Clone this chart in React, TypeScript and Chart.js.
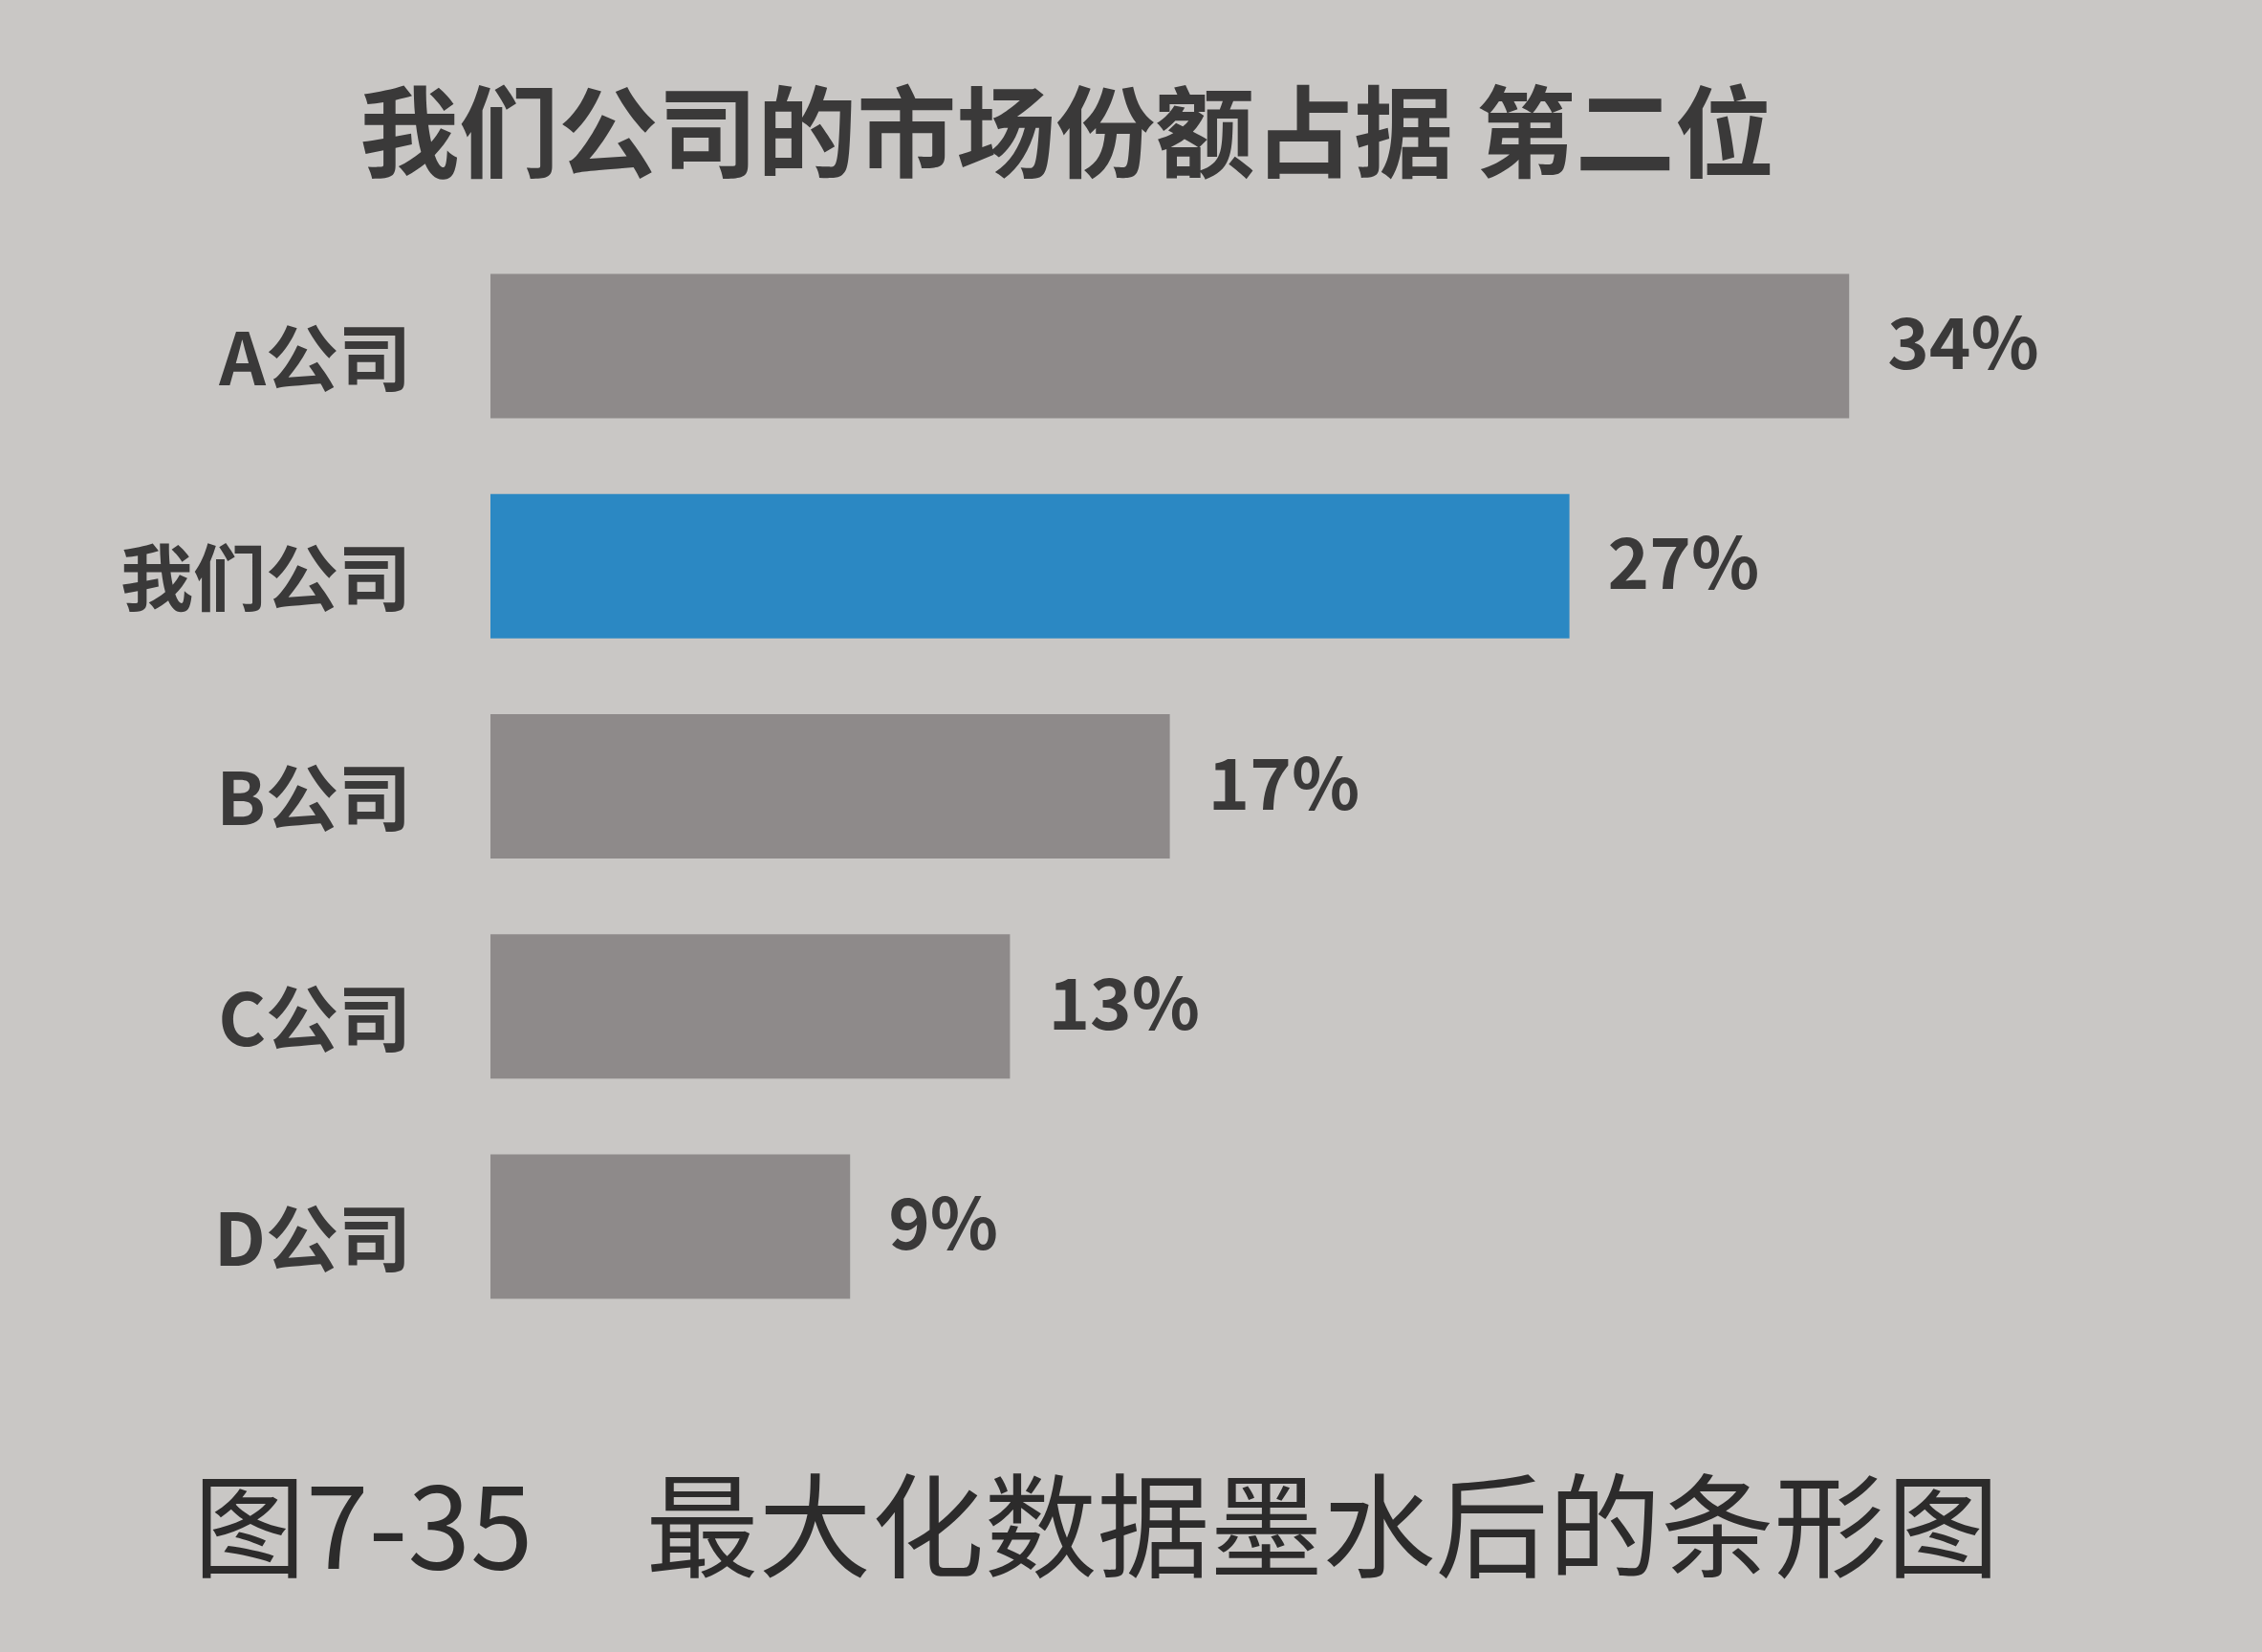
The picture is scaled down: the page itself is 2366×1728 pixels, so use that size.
import React, { useEffect, useRef } from "react";
import { Chart, registerables } from "chart.js";

Chart.register(...registerables);

const titleText = "我们公司的市场份额占据 第二位";
const captionText = "图7-35\u3000最大化数据墨水后的条形图";
const categories = ["A公司", "我们公司", "B公司", "C公司", "D公司"];
const shares = [34, 27, 17, 13, 9];
const highlightIndex = 1;

const BG = "#c9c7c5";
const GREY = "#8e8a8a";
const BLUE = "#2b88c3";
const TEXT = "#3a3939";
const FONT = "'Noto Sans CJK SC', 'Noto Sans', sans-serif";

export default function App() {
  const ref = useRef<HTMLCanvasElement | null>(null);

  useEffect(() => {
    document.body.style.margin = "0";
    const canvas = ref.current;
    if (!canvas) return;

    const valueLabels = {
      id: "valueLabels",
      afterDatasetsDraw(chart: any) {
        const ctx = chart.ctx;
        const meta = chart.getDatasetMeta(0);
        ctx.save();
        ctx.fillStyle = TEXT;
        ctx.font = `bold 74px ${FONT}`;
        ctx.textAlign = "left";
        ctx.textBaseline = "middle";
        meta.data.forEach((bar: any, i: number) => {
          ctx.fillText(`${shares[i]}%`, bar.x + 40, bar.y - 4);
        });
        ctx.restore();
      },
    };

    const chart = new Chart(canvas, {
      type: "bar",
      data: {
        labels: categories,
        datasets: [
          {
            data: shares,
            backgroundColor: shares.map((_, i) => (i === highlightIndex ? BLUE : GREY)),
            borderWidth: 0,
            barPercentage: 0.82,
            categoryPercentage: 0.8,
          },
        ],
      },
      options: {
        indexAxis: "y",
        animation: false,
        responsive: false,
        maintainAspectRatio: false,
        layout: { padding: { top: 247, bottom: 330, left: 0, right: 181 } },
        plugins: {
          legend: { display: false },
          tooltip: { enabled: false },
          title: { display: false },
        },
        scales: {
          x: {
            display: false,
            min: 0,
            max: 40,
          },
          y: {
            afterFit: (s: any) => {
              s.width = 513;
            },
            grid: { display: false, drawTicks: false },
            border: { display: false },
            ticks: {
              padding: 83,
              labelOffset: 12,
              color: TEXT,
              font: { family: FONT, size: 76, weight: "bold" },
            },
          },
        },
      },
      plugins: [valueLabels],
    });

    return () => chart.destroy();
  }, []);

  return (
    <div
      style={{
        position: "fixed",
        left: 0,
        top: 0,
        width: 2366,
        height: 1728,
        background: BG,
        overflow: "hidden",
      }}
    >
      <canvas
        ref={ref}
        width={2366}
        height={1728}
        style={{ position: "absolute", left: 0, top: 0, width: 2366, height: 1728 }}
      />
      <div
        style={{
          position: "absolute",
          left: 316,
          width: 1600,
          top: 68,
          textAlign: "center",
          fontFamily: FONT,
          fontWeight: 700,
          fontSize: 104,
          lineHeight: "130px",
          color: TEXT,
          whiteSpace: "nowrap",
        }}
      >
        {titleText}
      </div>
      <div
        style={{
          position: "absolute",
          left: 202,
          top: 1520,
          fontFamily: FONT,
          fontWeight: 400,
          fontSize: 118,
          lineHeight: "140px",
          color: "#2c2b2b",
          whiteSpace: "nowrap",
        }}
      >
        {captionText}
      </div>
    </div>
  );
}
